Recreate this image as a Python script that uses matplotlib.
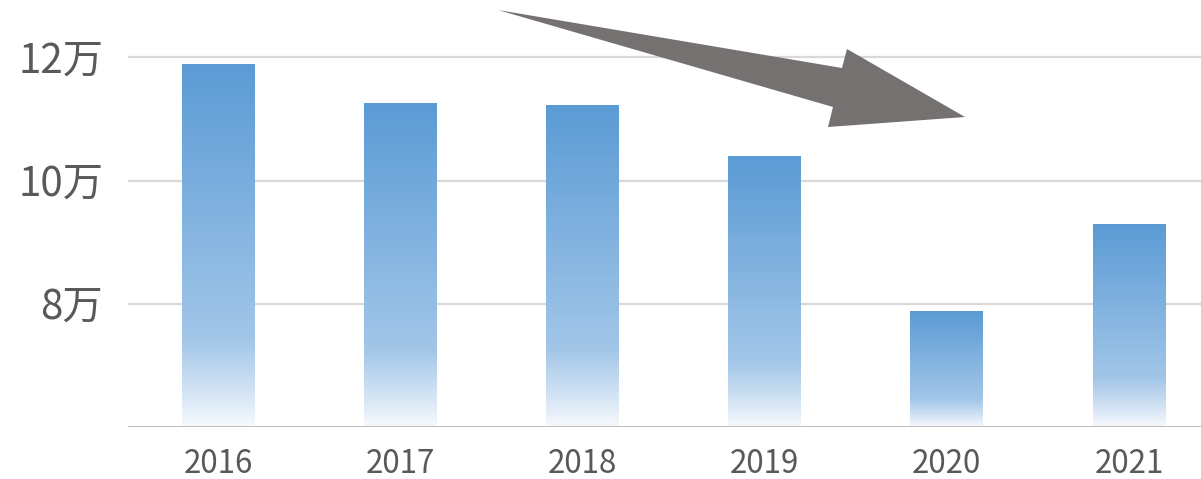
import numpy as np
import matplotlib
matplotlib.use("Agg")
import matplotlib.pyplot as plt
from matplotlib.colors import LinearSegmentedColormap
from matplotlib.patches import Polygon

plt.rcParams['font.family'] = ['Noto Sans CJK JP', 'DejaVu Sans']

years = ['2016', '2017', '2018', '2019', '2020', '2021']
values = [118900, 112500, 112200, 103900, 78700, 92800]
yticks = [80000, 100000, 120000]
ytick_labels = ['8万', '10万', '12万']
baseline = 60000

W, H = 1201, 479
fig = plt.figure(figsize=(W / 100, H / 100), dpi=100)
ax = fig.add_axes([128 / W, 52 / H, 1073 / W, 427 / H])

# vertical gradient: deep blue at the top of each bar, fading to white at its foot
grad_cmap = LinearSegmentedColormap.from_list(
    'barfade',
    [(0.0, '#F7FAFD'), (0.07, '#DCE9F6'), (0.24, '#A2C6E8'), (1.0, '#5B9BD5')])
grad = np.linspace(0, 1, 256).reshape(-1, 1)

bar_w = 0.40
x = np.arange(len(years))
for xi, v in zip(x, values):
    ax.imshow(grad, cmap=grad_cmap, origin='lower', aspect='auto',
              extent=[xi - bar_w / 2, xi + bar_w / 2, baseline, v],
              interpolation='bicubic', zorder=2)

ax.set_xlim(-0.494, 5.395)
ax.set_ylim(baseline, 129300)

for yt in yticks:
    ax.axhline(yt, color='#D9D9D9', lw=1.6, zorder=1)
ax.axhline(baseline, color='#BFBFBF', lw=2.2, zorder=3)

ax.set_yticks(yticks)
ax.set_yticklabels(ytick_labels, fontsize=29, color='#595959')
ax.set_xticks(x)
ax.set_xticklabels(years, fontsize=22.5, color='#595959')
ax.tick_params(axis='both', length=0)
ax.tick_params(axis='y', pad=18)
ax.tick_params(axis='x', pad=15)
for s in ax.spines.values():
    s.set_visible(False)

# downward trend arrow, drawn in figure pixel space
def px(xp, yp):
    return (xp / W, 1 - yp / H)

arrow_pts = [px(498, 10), px(842, 68), px(847, 49), px(965, 117),
             px(828, 127), px(833, 107)]
fig.patches.append(Polygon(arrow_pts, closed=True, transform=fig.transFigure,
                           facecolor='#767171', edgecolor='none', zorder=5))

fig.savefig('out.png', dpi=100)
